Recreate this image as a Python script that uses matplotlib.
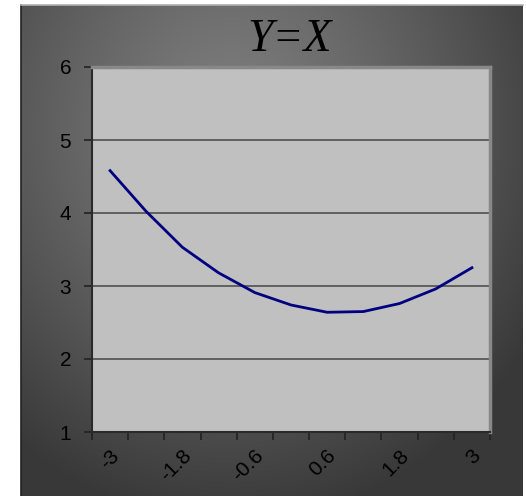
import numpy as np
import matplotlib
matplotlib.use("Agg")
import matplotlib.pyplot as plt
from matplotlib.transforms import ScaledTranslation

# Data
categories = ["-3", "-2.4", "-1.8", "-1.2", "-0.6", "0", "0.6", "1.2", "1.8", "2.4", "3"]
values = [4.58, 4.02, 3.53, 3.18, 2.91, 2.74, 2.64, 2.65, 2.76, 2.96, 3.25]
y_ticks = [1, 2, 3, 4, 5, 6]
title = "Y=X"

W, H, DPI = 526, 496, 100
fig = plt.figure(figsize=(W / DPI, H / DPI), dpi=DPI, facecolor="white")

# Chart area with a radial grey gradient
bg = fig.add_axes([21 / W, 0, 502 / W, 491.5 / H])
ny, nx = 300, 300
yy, xx = np.mgrid[0:1:ny * 1j, 0:1:nx * 1j]
r = np.sqrt(((xx - 0.42) / 0.75) ** 2 + ((yy - 0.25) / 0.85) ** 2)
r = np.clip(r / 0.95, 0, 1)
light, dark = 0.50, 0.22
g = light + (dark - light) * r ** 1.2
bg.imshow(np.dstack([g, g, g]), extent=[0, 1, 0, 1], aspect="auto", origin="upper")
bg.set_xlim(0, 1)
bg.set_ylim(0, 1)
bg.set_xticks([])
bg.set_yticks([])
for side, sp in bg.spines.items():
    sp.set_visible(side in ("left", "top"))
bg.spines["left"].set_color("#222222")
bg.spines["top"].set_color("#b0b0b0")
bg.spines["left"].set_linewidth(1.2)
bg.spines["top"].set_linewidth(1.2)

# Plot area
ax = fig.add_axes([92 / W, (H - 432) / H, 398 / W, 365 / H])
ax.set_facecolor("#c0c0c0")
x = np.arange(len(categories))
ax.plot(x, values, color="#000080", lw=2.0, zorder=3, solid_joinstyle="round")

ax.set_xlim(-0.5, len(categories) - 0.5)
ax.set_ylim(1, 6)
ax.set_yticks(y_ticks)
ax.yaxis.grid(True, color="#505050", lw=1.2)
ax.set_axisbelow(True)

# Tick marks sit between categories; labels on every other category
ax.set_xticks(np.arange(-0.5, len(categories), 1.0))
ax.set_xticklabels([])
ax.set_xticks(x[::2], minor=True)
ax.set_xticklabels([categories[i] for i in x[::2]], minor=True,
                   rotation=45, ha="right", va="center", rotation_mode="anchor",
                   fontsize=15, family="Liberation Sans", color="black")
ax.tick_params(axis="x", which="major", direction="out", length=6, width=1.2, color="#222222")
ax.tick_params(axis="x", which="minor", length=0, pad=15)
offset = ScaledTranslation(6 / DPI, 0, fig.dpi_scale_trans)
for lab in ax.get_xticklabels(minor=True):
    lab.set_transform(lab.get_transform() + offset)

ax.tick_params(axis="y", direction="out", length=6, width=1.2, color="#222222",
               pad=9, labelsize=15)
for lab in ax.get_yticklabels():
    lab.set_family("Liberation Sans")

ax.spines["left"].set_color("#2a2a2a")
ax.spines["bottom"].set_color("#2a2a2a")
ax.spines["left"].set_linewidth(1.5)
ax.spines["bottom"].set_linewidth(1.5)
ax.spines["top"].set_color("#888888")
ax.spines["right"].set_color("#888888")
ax.spines["top"].set_linewidth(2.5)
ax.spines["right"].set_linewidth(2.5)

fig.text(290 / W, 1 - 40 / H, title, ha="center", va="center", fontsize=33,
         family="Liberation Serif", style="italic", color="black")

fig.savefig("out.png", dpi=DPI, facecolor="white")
